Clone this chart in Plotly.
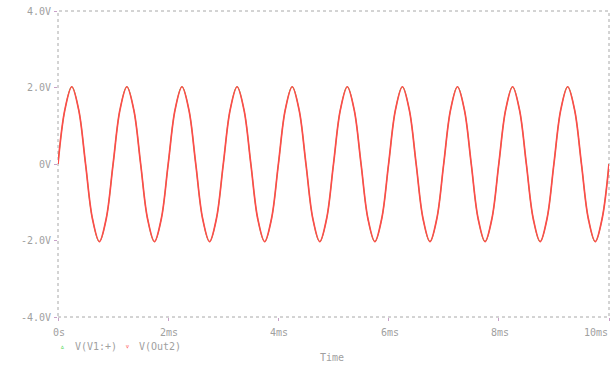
import plotly.graph_objects as go

# time axis in ms (samples every 0.125 ms)
time_ms = [i * 0.125 for i in range(81)]

# V(Out2) values (volts)
v_out2 = [
    0.00, 1.42, 2.02, 1.42, 0.00, -1.43, -2.03, -1.43,
    0.00, 1.42, 2.02, 1.42, 0.00, -1.43, -2.03, -1.43,
    0.00, 1.42, 2.02, 1.42, 0.00, -1.43, -2.03, -1.43,
    0.00, 1.42, 2.02, 1.42, 0.00, -1.43, -2.03, -1.43,
    0.00, 1.42, 2.02, 1.42, 0.00, -1.43, -2.03, -1.43,
    0.00, 1.42, 2.02, 1.42, 0.00, -1.43, -2.03, -1.43,
    0.00, 1.42, 2.02, 1.42, 0.00, -1.43, -2.03, -1.43,
    0.00, 1.42, 2.02, 1.42, 0.00, -1.43, -2.03, -1.43,
    0.00, 1.42, 2.02, 1.42, 0.00, -1.43, -2.03, -1.43,
    0.00, 1.42, 2.02, 1.42, 0.00, -1.43, -2.03, -1.43,
    0.00,
]
# V(V1:+) values (hidden under V(Out2))
v_v1 = list(v_out2)

x_tickvals = [0, 2, 4, 6, 8, 10]
x_ticktext = ["0s", "2ms", "4ms", "6ms", "8ms", "10ms"]
y_tickvals = [-4, -2, 0, 2, 4]
y_ticktext = ["-4.0V", "-2.0V", "0V", "2.0V", "4.0V"]

font_fam = "DejaVu Sans Mono"
grey = "#a0a0a0"
fsize = 10

fig = go.Figure()
fig.add_trace(go.Scatter(x=time_ms, y=v_v1, mode="lines", name="V(V1:+)",
                         line=dict(color="#40e040", width=1, shape="spline"),
                         showlegend=False))
fig.add_trace(go.Scatter(x=time_ms, y=v_out2, mode="lines", name="V(Out2)",
                         line=dict(color="#ff4a4a", width=1.7, shape="spline"),
                         showlegend=False))

annotations = []
for v, t in zip(x_tickvals, x_ticktext):
    last = v == x_tickvals[-1]
    annotations.append(dict(text=t, x=v, xref="x", y=0, yref="paper",
                            xanchor="right" if last else "center", yanchor="middle",
                            xshift=1, yshift=-15, showarrow=False,
                            font=dict(family=font_fam, size=fsize, color=grey)))
for v, t in zip(y_tickvals, y_ticktext):
    annotations.append(dict(text=t, x=0, xref="paper", y=v, yref="y",
                            xanchor="right", yanchor="middle", xshift=-5,
                            showarrow=False,
                            font=dict(family=font_fam, size=fsize, color=grey)))

annotations += [
    dict(text="Time", xref="paper", yref="paper", x=0.4895, y=0, xshift=4,
         xanchor="center", yanchor="middle", yshift=-40, showarrow=False,
         font=dict(family=font_fam, size=fsize, color=grey)),
    dict(text="▵", xref="paper", yref="paper", x=0, y=0, xshift=4,
         xanchor="center", yanchor="middle", yshift=-29, showarrow=False,
         font=dict(family=font_fam, size=8, color="#30d030")),
    dict(text="V(V1:+)", xref="paper", yref="paper", x=0, y=0, xshift=15,
         xanchor="left", yanchor="middle", yshift=-29, showarrow=False,
         font=dict(family=font_fam, size=fsize, color=grey)),
    dict(text="▿", xref="paper", yref="paper", x=0, y=0, xshift=69,
         xanchor="center", yanchor="middle", yshift=-29, showarrow=False,
         font=dict(family=font_fam, size=8, color="#ff4a4a")),
    dict(text="V(Out2)", xref="paper", yref="paper", x=0, y=0, xshift=79,
         xanchor="left", yanchor="middle", yshift=-29, showarrow=False,
         font=dict(family=font_fam, size=fsize, color=grey)),
]

fig.update_layout(
    width=614, height=378,
    margin=dict(l=58, r=5, t=11, b=61, autoexpand=False),
    plot_bgcolor="white", paper_bgcolor="white",
    font=dict(family=font_fam, size=fsize, color=grey),
    xaxis=dict(range=[0, 10], tickvals=x_tickvals, showticklabels=False,
               showgrid=False, zeroline=False, showline=False, automargin=False,
               ticks="outside", ticklen=3, tickcolor="#c8a0c8"),
    yaxis=dict(range=[-4, 4], tickvals=y_tickvals, showticklabels=False,
               showgrid=False, zeroline=False, showline=False, automargin=False,
               ticks="outside", ticklen=3, tickcolor="#c8a0c8"),
    shapes=[dict(type="rect", xref="paper", yref="paper", x0=0, x1=1, y0=0, y1=1,
                 line=dict(color="#a8a8a8", width=1, dash="3px,3px"), layer="below")],
    annotations=annotations,
)

fig.write_html("out.html", config={"displayModeBar": False},
               post_script="document.body.style.margin='0';document.body.style.padding='0';")
